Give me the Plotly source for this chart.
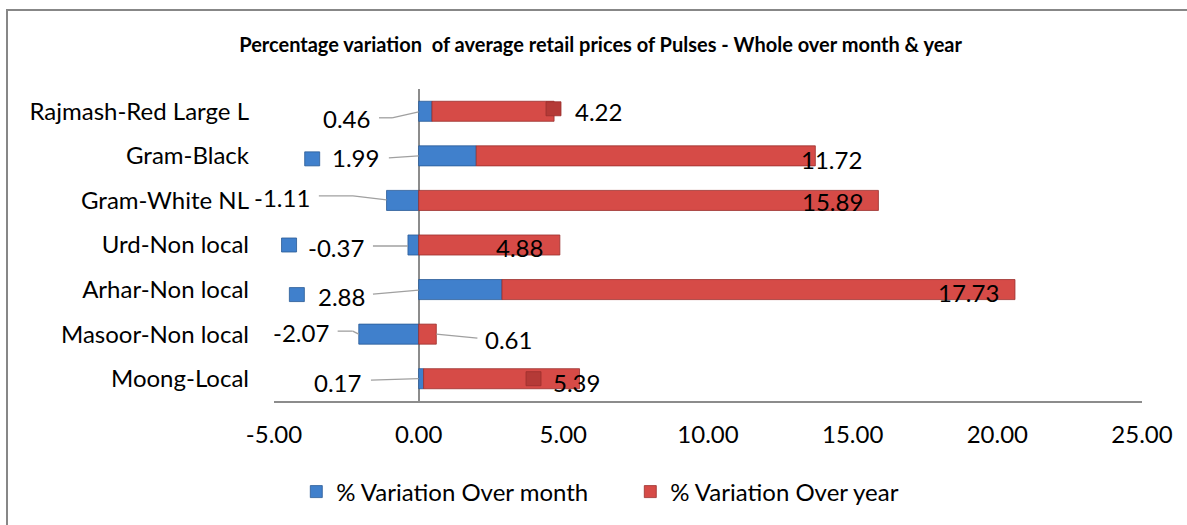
import plotly.graph_objects as go

# ---------------- data (bottom-to-top category order, as in Excel) ----------------
categories = ["Moong-Local", "Masoor-Non local", "Arhar-Non local", "Urd-Non local",
              "Gram-White NL", "Gram-Black", "Rajmash-Red Large L"]
month_var = [0.17, -2.07, 2.88, -0.37, -1.11, 1.99, 0.46]
year_var = [5.39, 0.61, 17.73, 4.88, 15.89, 11.72, 4.22]
x_tick_vals = [-5, 0, 5, 10, 15, 20, 25]
x_tick_text = ["-5.00", "0.00", "5.00", "10.00", "15.00", "20.00", "25.00"]
series_names = ["% Variation Over month", "% Variation Over year"]
title_text = "Percentage variation  of average retail prices of Pulses - Whole over month & year"

# ---------------- label placement (x in data units, dy in px downward) ----------------
month_lbl_x = [-2.79, -4.07, -2.65, -2.86, -4.73, -2.17, -2.48]
month_lbl_dy = [4, -2, 6.5, 2, -2.5, 2, 7.5]
year_lbl_x = [5.47, 3.12, 19.02, 3.50, 14.29, 14.26, 6.22]
year_lbl_dy = [3.5, 5, 2.5, 2, 1.5, 4, 0.5]

# leader line label-side points (x data, dy px) ; final point anchors on the bar
month_leaders = [
    [(-1.65, 1.5)],
    [(-2.80, -3), (-2.28, -3)],
    [(-1.58, 4.5)],
    [(-1.58, 1)],
    [(-3.45, -4.5), (-2.27, -4.5)],
    [(-1.03, 2)],
    [(-1.37, 6.5), (-0.92, 6.5)],
]
month_anchor_dy = [0, 0, 0.5, 1, -0.5, 0, 0.5]
year_leaders = {1: ([(2.03, 4)], 0)}

# legend keys shown inside some data labels: (category index, x data, dy px)
month_keys = [(5, -3.68, 3), (4, -6.37, -5.5), (3, -4.48, 0), (2, -4.21, 5)]
year_keys = [(6, 4.66, -2.5), (0, 3.97, 0)]

BLUE = "#4080CC"
BLUE_DARK = "#2A5A96"
RED = "#D64B47"
RED_DARK = "#9A302D"
RED_KEY = "#B53A37"
AXIS_GREY = "#8C8C8C"
FONT = "Lato"
FS = 24
ROW_PX = 44.5
UNIT_PX = 28.93

fig = go.Figure()
fig.add_trace(go.Bar(y=categories, x=month_var, orientation="h", name=series_names[0],
                     marker=dict(color=BLUE, line=dict(color=BLUE_DARK, width=0.8))))
fig.add_trace(go.Bar(y=categories, x=year_var, orientation="h", name=series_names[1],
                     marker=dict(color=RED, line=dict(color=RED_DARK, width=0.8))))

shapes = []
annotations = []

def yi(idx, dy):
    return idx - dy / ROW_PX

# data labels
for i in range(len(categories)):
    annotations.append(dict(x=month_lbl_x[i], y=categories[i], xref="x", yref="y",
                            text=f"{month_var[i]:.2f}", showarrow=False,
                            yshift=-month_lbl_dy[i], font=dict(family=FONT, size=FS, color="#000")))
    annotations.append(dict(x=year_lbl_x[i], y=categories[i], xref="x", yref="y",
                            text=f"{year_var[i]:.2f}", showarrow=False,
                            yshift=-year_lbl_dy[i], font=dict(family=FONT, size=FS, color="#000")))

# leader lines
for i, pts in enumerate(month_leaders):
    anchor = (min(month_var[i], 0), month_anchor_dy[i])
    seq = pts + [anchor]
    for (xa, da), (xb, db) in zip(seq[:-1], seq[1:]):
        shapes.append(dict(type="line", xref="x", yref="y", x0=xa, y0=yi(i, da), x1=xb, y1=yi(i, db),
                           line=dict(color="#A0A0A0", width=1.3)))
for i, (pts, ady) in year_leaders.items():
    end = max(month_var[i], 0) + year_var[i]
    seq = [(end, ady)] + pts
    for (xa, da), (xb, db) in zip(seq[:-1], seq[1:]):
        shapes.append(dict(type="line", xref="x", yref="y", x0=xa, y0=yi(i, da), x1=xb, y1=yi(i, db),
                           line=dict(color="#A0A0A0", width=1.3)))

# legend keys inside labels
hw = 7.5 / UNIT_PX
hh = 7 / ROW_PX
for keys, col, dark in ((month_keys, BLUE, BLUE_DARK), (year_keys, RED_KEY, RED_DARK)):
    for idx, xc, dy in keys:
        yc = yi(idx, dy)
        shapes.append(dict(type="rect", xref="x", yref="y", x0=xc - hw, x1=xc + hw,
                           y0=yc - hh, y1=yc + hh, fillcolor=col, line=dict(color=dark, width=0.8),
                           layer="above"))

# outer chart border (left + top visible)
shapes.append(dict(type="rect", xref="paper", yref="paper",
                   x0=(7 - 274) / 868, x1=(1200 - 274) / 868,
                   y0=-(540 - 401) / 312, y1=1 + (89 - 10) / 312,
                   line=dict(color="#878787", width=2), fillcolor="rgba(0,0,0,0)", layer="below"))

fig.update_layout(
    barmode="relative",
    bargap=0.55,
    width=1187, height=525,
    margin=dict(l=274, r=45, t=89, b=124),
    paper_bgcolor="white", plot_bgcolor="white",
    font=dict(family=FONT, size=FS, color="#000"),
    title=dict(text=f"<b>{title_text}</b>", x=0.506, xref="container", xanchor="center",
               y=1 - 45 / 525, yref="container", yanchor="middle",
               font=dict(family=FONT, size=20, color="#000")),
    showlegend=True,
    legend=dict(orientation="h", xref="container", yref="container", x=0.531, y=1 - 492 / 525,
                xanchor="center", yanchor="middle", font=dict(family=FONT, size=FS),
                traceorder="normal", itemwidth=30, entrywidth=289),
    shapes=shapes,
    annotations=annotations,
)
fig.update_xaxes(range=[-5, 25], tickvals=x_tick_vals, ticktext=x_tick_text, showgrid=False,
                 zeroline=True, zerolinecolor=AXIS_GREY, zerolinewidth=1.5,
                 showline=True, linecolor=AXIS_GREY, linewidth=2, ticks="",
                 ticklabelstandoff=11, layer="above traces", tickfont=dict(family=FONT, size=FS))
fig.update_yaxes(type="category", categoryorder="array", categoryarray=categories,
                 showgrid=False, zeroline=False, showline=False, ticks="",
                 ticklabelstandoff=24, tickfont=dict(family=FONT, size=FS))

fig.write_html("out.html", config={"displayModeBar": False},
               post_script="document.body.style.margin='0px';document.body.style.overflow='hidden';")
